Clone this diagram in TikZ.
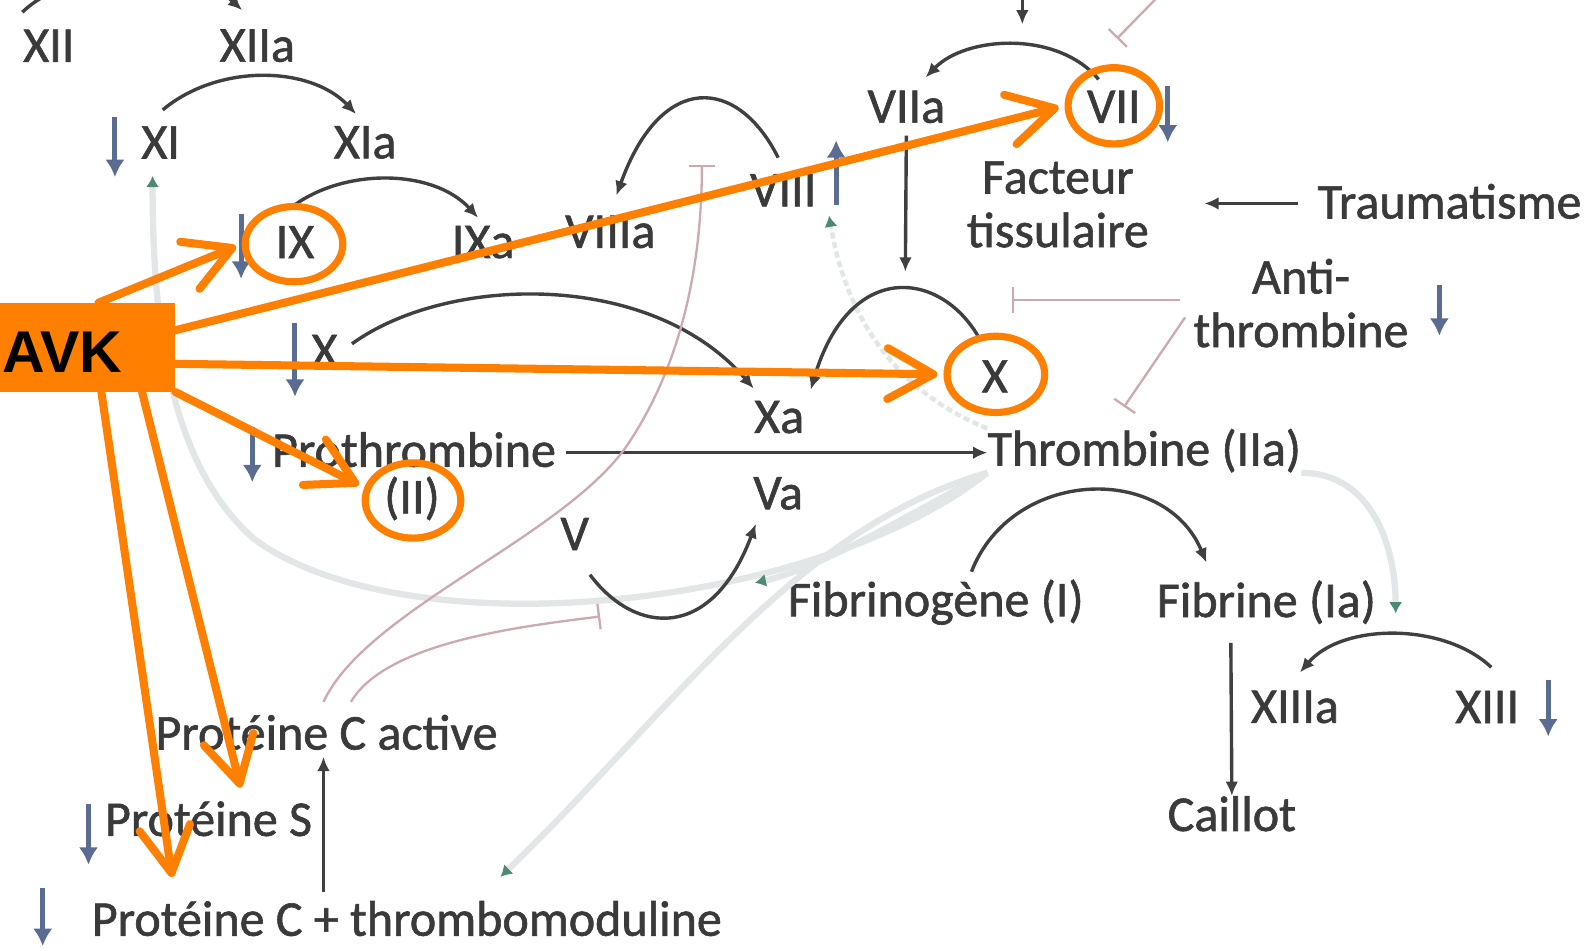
\documentclass[tikz,border=0pt]{standalone}
\usepackage{fontspec}
\setmainfont[FakeBold=1.2]{Carlito}
\newfontfamily\avkfont{Liberation Sans}
\usetikzlibrary{arrows.meta,shapes.geometric,calc}
\definecolor{ink}{HTML}{3A3A3A}
\definecolor{linec}{HTML}{404040}
\definecolor{downc}{HTML}{5B6C92}
\definecolor{inhib}{HTML}{CDAAB0}
\definecolor{faintc}{HTML}{E2E6E6}
\definecolor{feed}{HTML}{4E8A72}
\definecolor{avkc}{HTML}{FF7F00}
\begin{document}
\begin{tikzpicture}[x=0.02cm,y=-0.02cm,
  lbl/.style={font=\fontsize{28}{30}\selectfont, text=ink, inner sep=0pt},
  conv/.style={draw=linec, line width=1.9pt, -{Latex[length=0.28cm,width=0.25cm]}},
  lowered/.style={draw=downc, line width=2.8pt, -{Latex[length=0.34cm,width=0.38cm]}},
  raised/.style={draw=downc, line width=2.8pt, -{Latex[length=0.34cm,width=0.38cm]}},
  blockline/.style={draw=inhib, line width=1.3pt, -{Bar[width=0.5cm]}},
  fback/.style={draw=faintc, line width=3.5pt, -{Latex[length=0.22cm,width=0.26cm,color=feed]}},
  ring/.style={ellipse, draw=avkc, line width=4pt, inner sep=0pt},
  hit/.style={draw=avkc, line width=4.5pt, line cap=round, shorten >=0.12cm,
    -{Straight Barb[length=0.9cm,width=1.0cm,round]}},
]
\useasboundingbox[fill=white] (0,0) rectangle (1568,934);

% ---- factors ----
\node[lbl] (XII)   at (48,45)   {XII};
\node[lbl] (XIIa)  at (253,45)  {XIIa};
\node[lbl] (XI)    at (158,140) {XI};
\node[lbl] (XIa)   at (359,140) {XIa};
\node[lbl] (IX)    at (290,238) {IX};
\node[lbl] (IXa)   at (475,238) {IXa};
\node[lbl] (VIIIa) at (600,228) {VIIIa};
\node[lbl] (VIII)  at (770,187) {VIII};
\node[lbl] (VIIa)  at (891,105) {VIIa};
\node[lbl] (VII)   at (1095,105) {VII};
\node[lbl, align=center] (FT) at (1040,201) {Facteur\\tissulaire};
\node[lbl] (Trau)  at (1425,198) {Traumatisme};
\node[lbl, align=center] (AT) at (1279,298) {Anti-\\thrombine};
\node[lbl] (Xl)    at (319,345) {X};
\node[lbl] (Xr)    at (978,370) {X};
\node[lbl] (Xa)    at (766,410) {Xa};
\node[lbl] (Pro)   at (407,442) {Prothrombine};
\node[lbl] (II)    at (405,490) {(II)};
\node[lbl] (Thr)   at (1125,443) {Thrombine (IIa)};
\node[lbl] (Va)    at (765,485) {Va};
\node[lbl] (V)     at (565,525) {V};
\node[lbl] (Fgn)   at (920,592) {Fibrinogène (I)};
\node[lbl] (Fib)   at (1245,592) {Fibrine (Ia)};
\node[lbl] (XIIIa) at (1273,695) {XIIIa};
\node[lbl] (XIII)  at (1462,695) {XIII};
\node[lbl] (Cail)  at (1211,800) {Caillot};
\node[lbl] (PCa)   at (321,720) {Protéine C active};
\node[lbl] (PS)    at (205,805) {Protéine S};
\node[lbl] (PC)    at (400,903) {Protéine C + thrombomoduline};

% ---- feedback loops of thrombin (faint) ----
\draw[fback] (Thr.south west) .. controls (800,600) and (400,640) .. (250,530)
  .. controls (170,460) and (150,330) .. (150,173);
\draw[fback, dotted, line width=2.5pt] (Thr.north west) .. controls (870,380) and (830,300) .. (815,212);
\draw[fback] (Thr.south west) .. controls (870,520) and (800,560) .. (742,573);
\draw[fback] (Thr.south west) .. controls (780,520) and (660,700) .. (492,862);
\draw[fback] (Thr.south east) .. controls (1350,465) and (1372,540) .. (1372,603);

% ---- conversions ----
\coordinate (trauS) at (1276,200);
\coordinate (trauE) at (1184,200);
\draw[conv] (22,12) .. controls (70,-35) and (190,-35) .. (238,10);
\draw[conv] (160,108) .. controls (215,62) and (305,65) .. (350,112);
\draw[conv] (285,205) .. controls (335,165) and (425,165) .. (470,214);
\draw[conv] (765,155) .. controls (725,75) and (650,70) .. (606,192);
\draw[conv] (1080,78) .. controls (1040,30) and (950,35) .. (910,76);
\draw[conv] (1005,-5) -- (1005,24);
\draw[conv] (VIIa.south) ++(0,12) -- (890,267);
\draw[conv] (trauS) -- (trauE);
\draw[conv] (346,338) .. controls (440,270) and (640,265) .. (741,382);
\draw[conv] (963,333) .. controls (925,265) and (835,255) .. (797,383);
\draw[conv] (Pro.east) ++(10,3) -- (Thr.west |- 0,445);
\draw[conv] (580,565) .. controls (625,625) and (700,630) .. (743,515);
\draw[conv] (955,562) .. controls (995,460) and (1145,455) .. (1186,553);
\draw[conv] (1210,632) -- (Cail.north);
\draw[conv] (1466,656) .. controls (1420,612) and (1320,612) .. (1278,661);
\draw[conv] (318,877) -- (318,744);

% ---- inhibitions ----
\draw[blockline] (318,690) .. controls (360,600) and (550,530) .. (615,440)
  .. controls (670,360) and (690,260) .. (690,162);
\draw[blockline] (345,690) .. controls (380,630) and (520,615) .. (590,606);
\draw[blockline] (1160,295) -- (995,295);
\draw[blockline] (1165,312) -- (1105,400);
\draw[blockline] (1140,-5) -- (1098,38);

% ---- lowered levels ----
\draw[lowered] (113,115) -- (113,174);
\draw[lowered] (237,210) -- (237,274);
\draw[raised]  (822,202) -- (822,138);
\draw[lowered] (1148,85) -- (1148,140);
\draw[lowered] (1415,280) -- (1415,330);
\draw[lowered] (290,318) -- (290,390);
\draw[lowered] (248,420) -- (248,474);
\draw[lowered] (1522,668) -- (1522,724);
\draw[lowered] (87,790) -- (87,850);
\draw[lowered] (42,873) -- (42,930);

% ---- AVK targets ----
\node[ring, minimum width=1.92cm, minimum height=1.48cm] (rIX)  at (289,240)  {};
\node[ring, minimum width=1.80cm, minimum height=1.50cm] (rVII) at (1095,104) {};
\node[ring, minimum width=1.92cm, minimum height=1.50cm] (rX)   at (979,368)  {};
\node[ring, minimum width=1.88cm, minimum height=1.48cm] (rII)  at (406,492)  {};

\node[fill=avkc, minimum width=3.44cm, minimum height=1.74cm, inner sep=0pt] (avk) at (86,341.5) {};
\node[anchor=base west, inner sep=0pt, font=\avkfont\bfseries\fontsize{33}{33}\selectfont] (avkt) at (2,366) {AVK};

\coordinate (tPS) at (238,780);
\coordinate (tPC) at (170,868);
\draw[hit] ($(avk.north west)+(97,0)$) -- (rIX.west);
\draw[hit] ($(avk.north east)+(0,27)$) -- (rVII.west);
\draw[hit] ($(avk.north east)+(0,60)$) -- (rX.west);
\draw[hit] (avk.south east) -- (rII.165);
\draw[hit] ($(avk.south west)+(140,0)$) -- (tPS);
\draw[hit] ($(avk.south west)+(100,0)$) -- (tPC);
\end{tikzpicture}
\end{document}
